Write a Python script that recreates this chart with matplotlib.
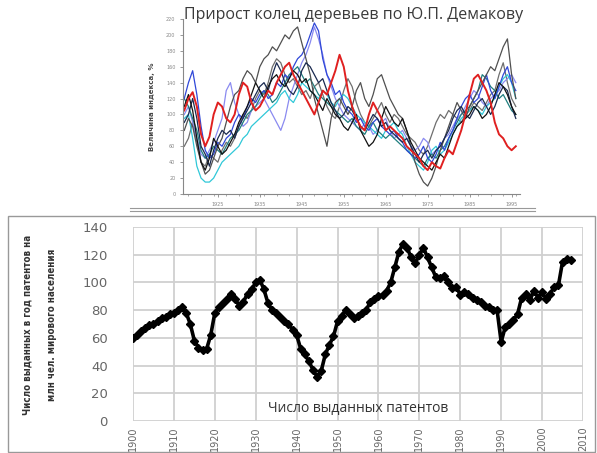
import matplotlib
matplotlib.use("Agg")
import matplotlib.pyplot as plt
from matplotlib.lines import Line2D
from matplotlib.patches import Rectangle

# ---------------- data: top chart (tree-ring growth index, %) ----------------
ring_years = list(range(1917, 1997))
ring_red = [105, 120, 128, 110, 75, 60, 72, 100, 115, 110,
            95, 90, 100, 125, 140, 135, 115, 105, 110, 120,
            130, 125, 140, 150, 160, 165, 150, 140, 130, 120,
            110, 100, 115, 130, 125, 140, 155, 175, 160, 130,
            110, 95, 85, 80, 100, 115, 105, 95, 80, 85,
            80, 75, 70, 60, 55, 50, 45, 35, 30, 40,
            35, 32, 45, 55, 50, 65, 80, 100, 125, 145,
            150, 140, 130, 115, 90, 75, 70, 60, 55, 60]
ring_blue = [120, 140, 155, 125, 85, 55, 45, 50, 65, 60,
             70, 75, 90, 100, 95, 110, 120, 115, 125, 130,
             120, 125, 140, 135, 150, 145, 160, 170, 175, 185,
             200, 215, 205, 170, 150, 140, 125, 130, 115, 105,
             100, 90, 95, 85, 80, 90, 95, 85, 80, 75,
             80, 70, 65, 55, 50, 45, 50, 60, 45, 40,
             50, 65, 55, 70, 80, 95, 110, 120, 125, 115,
             120, 135, 150, 130, 120, 135, 150, 160, 140, 130]
ring_lavender = [100, 110, 90, 70, 50, 45, 55, 65, 80, 95,
                 130, 140, 115, 100, 85, 90, 105, 110, 115, 120,
                 110, 100, 90, 80, 95, 120, 135, 150, 165, 175,
                 190, 210, 195, 175, 150, 135, 120, 110, 100, 95,
                 90, 85, 80, 90, 85, 75, 80, 90, 95, 80,
                 70, 75, 80, 70, 60, 55, 60, 70, 65, 50,
                 55, 60, 70, 75, 85, 95, 100, 110, 120, 130,
                 125, 115, 110, 120, 125, 130, 140, 145, 150, 140]
ring_cyan = [95, 100, 70, 35, 20, 15, 15, 20, 30, 40,
             45, 50, 55, 60, 70, 75, 85, 90, 95, 100,
             105, 110, 115, 125, 130, 120, 115, 125, 140, 135,
             130, 125, 120, 130, 125, 115, 110, 120, 125, 120,
             110, 100, 95, 90, 85, 80, 75, 70, 80, 85,
             90, 80, 75, 60, 50, 40, 35, 30, 40, 55,
             60, 50, 55, 65, 75, 85, 95, 100, 105, 110,
             105, 100, 110, 115, 120, 135, 145, 150, 140, 120]
ring_teal = [120, 110, 95, 80, 55, 45, 50, 60, 55, 50,
             60, 70, 75, 80, 90, 100, 105, 110, 120, 130,
             125, 115, 120, 130, 140, 150, 155, 160, 150, 140,
             145, 135, 125, 120, 115, 110, 105, 100, 95, 90,
             95, 85, 80, 75, 85, 90, 80, 75, 70, 75,
             70, 65, 60, 55, 50, 45, 40, 35, 45, 50,
             45, 55, 60, 70, 80, 90, 100, 105, 110, 120,
             130, 150, 145, 135, 130, 120, 125, 115, 105, 100]
ring_black1 = [110, 125, 105, 70, 40, 30, 45, 70, 60, 50,
               55, 65, 75, 90, 100, 110, 125, 140, 130, 120,
               135, 145, 150, 140, 135, 145, 155, 150, 140, 145,
               130, 125, 115, 105, 120, 110, 100, 95, 85, 80,
               90, 100, 80, 70, 60, 65, 75, 95, 110, 100,
               90, 85, 95, 80, 65, 55, 45, 40, 35, 30,
               40, 50, 45, 60, 75, 85, 90, 95, 100, 110,
               105, 95, 100, 110, 125, 140, 135, 125, 110, 100]
ring_black2 = [90, 100, 120, 95, 60, 50, 35, 55, 70, 80,
               75, 80, 70, 85, 95, 105, 115, 125, 135, 140,
               130, 150, 165, 155, 140, 130, 125, 135, 155, 165,
               160, 150, 140, 145, 130, 115, 105, 95, 100, 110,
               105, 95, 85, 80, 90, 100, 95, 85, 90, 80,
               75, 70, 65, 70, 60, 50, 40, 50, 55, 45,
               55, 60, 70, 80, 95, 105, 110, 100, 95, 105,
               115, 120, 110, 100, 110, 125, 135, 130, 110, 95]
ring_gray1 = [80, 95, 85, 60, 40, 25, 30, 45, 60, 70,
              90, 110, 125, 130, 145, 155, 150, 140, 160, 170,
              175, 185, 180, 190, 200, 195, 205, 210, 190, 170,
              150, 120, 100, 80, 60, 95, 115, 120, 110, 100,
              110, 130, 140, 120, 110, 125, 145, 150, 135, 120,
              110, 100, 95, 80, 60, 40, 25, 15, 10, 20,
              35, 55, 70, 85, 100, 115, 105, 95, 110, 120,
              130, 140, 150, 160, 155, 170, 185, 195, 150, 120]
ring_gray2 = [60, 70, 90, 65, 40, 35, 50, 45, 40, 55,
              65, 60, 70, 85, 100, 95, 105, 120, 130, 125,
              140, 160, 170, 165, 150, 140, 145, 135, 125, 130,
              120, 135, 140, 125, 110, 100, 95, 110, 130, 145,
              135, 115, 100, 90, 85, 95, 105, 115, 100, 90,
              100, 95, 85, 75, 70, 65, 55, 50, 60, 75,
              90, 100, 95, 105, 100, 95, 90, 100, 105, 115,
              110, 105, 115, 125, 130, 150, 165, 140, 120, 110]

ring_series = [ring_gray2, ring_lavender, ring_cyan, ring_teal, ring_blue,
               ring_gray1, ring_black2, ring_black1, ring_red]
ring_colors = ["#6e6e6e", "#8a8af0", "#30c8d8", "#1f7f7f", "#3048d8",
               "#505050", "#1a2a50", "#111111", "#e02020"]
ring_yticks = list(range(0, 221, 20))
ring_xticks = [1925, 1935, 1945, 1955, 1965, 1975, 1985, 1995]

# ---------------- data: bottom chart (patents per million people) ----------------
pat_years = list(range(1900, 2008))
pat_values = [60, 62, 65, 67, 69, 70, 72, 74, 75, 77,
              78, 80, 82, 78, 70, 58, 53, 51, 52, 62,
              78, 82, 85, 88, 92, 88, 83, 86, 92, 95,
              100, 102, 95, 85, 80, 78, 75, 72, 70, 66,
              62, 52, 48, 43, 37, 32, 36, 48, 55, 61,
              72, 76, 80, 77, 74, 76, 78, 80, 86, 88,
              90, 91, 94, 100, 111, 122, 128, 125, 118, 114,
              120, 125, 118, 111, 104, 103, 105, 100, 96, 97,
              91, 93, 92, 89, 87, 86, 83, 82, 80, 80,
              57, 68, 70, 73, 77, 89, 92, 87, 94, 89,
              93, 88, 92, 97, 98, 115, 117, 116]
pat_yticks = list(range(0, 141, 20))
pat_xticks = list(range(1900, 2011, 10))

W, H = 597, 453
fig = plt.figure(figsize=(W / 100, H / 100), dpi=100)
fig.patch.set_facecolor("white")

def fx(px):
    return px / W

def fy(py):
    return 1 - py / H

# ---------------- top chart ----------------
ax1 = fig.add_axes([fx(183), fy(194), fx(520) - fx(183), fy(19) - fy(194)])
for s, c in zip(ring_series, ring_colors):
    lw = 1.4 if c == "#e02020" else 0.9
    ax1.plot(ring_years, s, color=c, lw=lw)
ax1.set_ylim(0, 220)
ax1.set_xlim(1916.7, 1997)
ax1.set_yticks(ring_yticks)
ax1.set_xticks(ring_xticks)
ax1.set_xticks(list(range(1918, 1997, 3)), minor=True)
ax1.tick_params(axis="both", labelsize=3.5, colors="#888888", length=2, width=0.6)
ax1.tick_params(axis="x", which="minor", length=1.5, color="#888888", width=0.5)
for sp in ["top", "right"]:
    ax1.spines[sp].set_visible(False)
for sp in ["left", "bottom"]:
    ax1.spines[sp].set_color("#888888")
    ax1.spines[sp].set_linewidth(0.8)
ax1.set_ylabel("Величина индекса, %", fontsize=5, fontweight="bold", color="#444444", labelpad=8)
ax1.patch.set_alpha(0)
fig.text(fx(354), fy(15), "Прирост колец деревьев по Ю.П. Демакову",
         ha="center", va="center", fontsize=11.5, color="#3a3a3a", family="Open Sans")

# separator lines (bottom edge of top picture)
fig.add_artist(Line2D([fx(130), fx(535)], [fy(208), fy(208)], color="#999999", lw=0.8))
fig.add_artist(Line2D([fx(130), fx(535)], [fy(211), fy(211)], color="#999999", lw=0.8))

# frame of bottom picture
fig.add_artist(Rectangle((fx(8), fy(452)), fx(595) - fx(8), fy(216) - fy(452),
                         fill=False, edgecolor="#999999", lw=1.0))

# ---------------- bottom chart ----------------
ax2 = fig.add_axes([fx(133), fy(421), fx(583) - fx(133), fy(227) - fy(421)])
ax2.plot(pat_years, pat_values, color="black", lw=2.6, marker="D", ms=4.5,
         mfc="black", mec="black")
ax2.set_xlim(1900, 2010)
ax2.set_ylim(0, 140)
ax2.set_yticks(pat_yticks)
ax2.set_xticks(pat_xticks)
ax2.grid(True, color="#d0d0d0", lw=1.3)
ax2.set_axisbelow(True)
for sp in ax2.spines.values():
    sp.set_visible(False)
ax2.tick_params(axis="both", length=0, colors="#666666")
ax2.tick_params(axis="y", labelsize=9.5, pad=18)
ax2.tick_params(axis="x", labelsize=7, rotation=90, pad=4)
ax2.text(1955, 9, "Число выданных патентов", ha="center", va="center",
         fontsize=10, color="#333333", family="Open Sans")
fig.text(fx(28), fy(325), "Число выданных в год патентов на", rotation=90,
         ha="center", va="center", fontsize=7, fontweight="bold", color="#333333",
         fontstretch="condensed")
fig.text(fx(52), fy(325), "млн чел. мирового населения", rotation=90,
         ha="center", va="center", fontsize=7, fontweight="bold", color="#333333",
         fontstretch="condensed")

fig.savefig("out.png", dpi=100, facecolor="white")
